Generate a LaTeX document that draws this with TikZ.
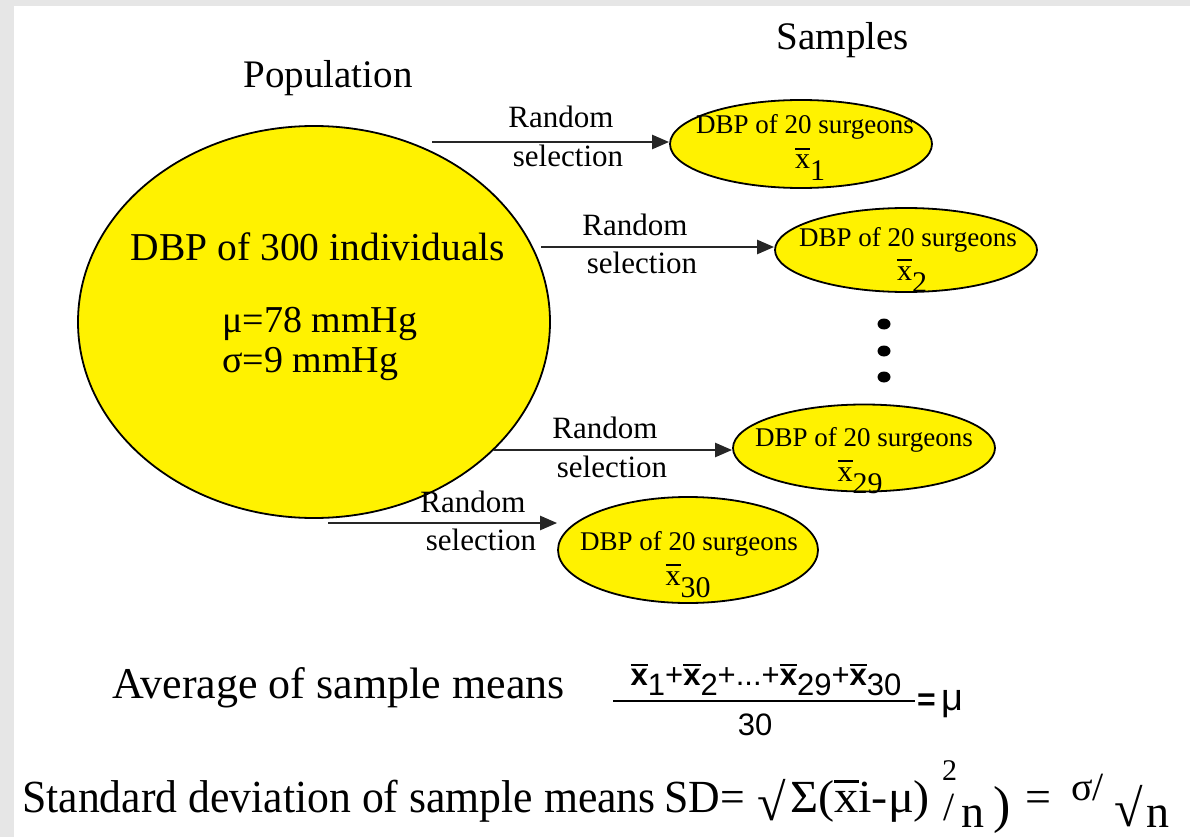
\documentclass[tikz,border=0pt]{standalone}
\usepackage{fontspec}
\usepackage{graphicx}
\setmainfont{Liberation Serif}
\newfontfamily\sansf{Liberation Sans}
\usetikzlibrary{shapes.geometric,arrows.meta}
\newcommand\fs[1]{\fontsize{#1}{#1}\selectfont}
\newcommand\ovx[1]{\setbox0\hbox{#1}\rlap{\raisebox{0.62em}{\rule{\wd0}{0.07em}}}\box0}
\newcommand\xsub[1]{\ovx{x}\raisebox{-0.4em}{#1}}
\newcommand\nx[1]{\raisebox{0.3em}{\ovx{\bfseries x}}#1}
\newcommand\rp[1]{\raisebox{0.3em}{#1}}
\definecolor{bggray}{HTML}{E6E6E6}
\begin{document}
\begin{tikzpicture}[x=1pt,y=-1pt,
  blob/.style={ellipse,draw=black,fill=yellow,line width=1.8pt,inner sep=0pt},
  arr/.style={-{Triangle[length=17pt,width=14pt]},line width=2.4pt,draw=black!85},
  lbl/.style={font=\fs{31},inner sep=0pt,anchor=base},
  big/.style={font=\fs{38},inner sep=0pt,anchor=base},
  stxt/.style={font=\fs{27},inner sep=0pt,anchor=base},
  xtxt/.style={font=\fs{30},inner sep=0pt,anchor=base},
  dot/.style={ellipse,fill=black,minimum width=13pt,minimum height=11pt,inner sep=0pt},
  piece/.style={font=\fs{46},inner sep=0pt,anchor=base west}]
\fill[bggray] (0,0) rectangle (1190,837);
\fill[white] (14,6) rectangle (1190,837);
\useasboundingbox (0,0) rectangle (1190,837);

% titles
\node[big,font=\fs{39}] (poptitle) at (328,88) {Population};
\node[big,font=\fs{39}] (samptitle) at (843,50) {Samples};

% population
\node[blob,minimum width=472pt,minimum height=392pt] (pop) at (314,322) {};
\node[big,font=\fs{39.5}] (poptext) at (318,260) {DBP of 300 individuals};
\node[big,anchor=base west] (mu) at (222,332) {μ=78 mmHg};
\node[big,anchor=base west] (sigma) at (222,372) {σ=9 mmHg};

% samples
\node[blob,minimum width=262pt,minimum height=88pt] (e1) at (801,144) {};
\node[stxt] (t1) at (805,134) {DBP of 20 surgeons};
\node[xtxt] (x1) at (810,169) {\xsub{1}};

\node[blob,minimum width=262pt,minimum height=84pt] (e2) at (906,250) {};
\node[stxt] (t2) at (908,246) {DBP of 20 surgeons};
\node[xtxt] (x2) at (912,280) {\xsub{2}};

\node[dot] (d1) at (884,324) {};
\node[dot] (d2) at (884,351) {};
\node[dot] (d3) at (884,377) {};

\node[blob,minimum width=262pt,minimum height=87pt] (e29) at (864,448) {};
\node[stxt] (t29) at (864,446) {DBP of 20 surgeons};
\node[xtxt] (x29) at (860,481) {\xsub{29}};

\node[blob,minimum width=260pt,minimum height=106pt] (e30) at (688,550) {};
\node[stxt] (t30) at (689,550) {DBP of 20 surgeons};
\node[xtxt] (x30) at (688,585) {\xsub{30}};

% arrows
\coordinate (s1) at (432,142);
\coordinate (s2) at (541,247);
\coordinate (s3) at (494,450);
\coordinate (s4) at (328,523);
\draw[arr] (s1) -- (e1.west |- s1);
\draw[arr] (s2) -- (e2.west |- s2);
\draw[arr] (s3) -- (e29.west |- s3);
\draw[arr] (s4) -- (e30.west |- s4);
\node[lbl] (r1) at (561,128) {Random};
\node[lbl] (l1) at (568,167) {selection};
\node[lbl] (r2) at (635,235) {Random};
\node[lbl] (l2) at (642,273) {selection};
\node[lbl] (r3) at (605,438) {Random};
\node[lbl] (l3) at (612,477) {selection};
\node[lbl] (r4) at (473,512) {Random};
\node[lbl] (l4) at (481,550) {selection};

% average
\node[piece,font=\fs{44}] (avg) at (112,698) {Average of sample means};
\node[inner sep=0pt,anchor=base,font=\sansf\fs{31}] (num) at (766,695)
  {\nx{1}\rp{+}\nx{2}\rp{+...+}\nx{29}\rp{+}\nx{30}};
\coordinate (fl) at (613,701);
\coordinate (fr) at (915,701);
\draw[line width=2.5pt] (fl) -- (fr);
\node[inner sep=0pt,anchor=base,font=\sansf\fs{31}] (den) at (755,735) {30};
\node[inner sep=0pt,anchor=base west,font=\sansf\fs{32}] (eqmu) at (917,710) {\textbf{=}\,{\fs{38}μ}};

% standard deviation
\node[piece] (sdtext) at (22,812) {\scalebox{0.95}[1]{Standard deviation of sample means}};
\node[piece] (sd) at (664,812) {\scalebox{0.95}[1]{SD=}};
\node[piece,font=\fs{52}] (rad1) at (757,820) {√};
\node[piece] (sum) at (790,812) {\scalebox{1.05}[1]{Σ(\ovx{x}i-μ)}};
\node[piece,font=\fs{30}] (sq) at (942,780) {2};
\node[piece,font=\fs{40}] (slash1) at (943,820) {/};
\node[piece] (n1) at (961,827) {n};
\node[piece,font=\fs{52}] (cp) at (993,822) {)};
\node[piece] (eq2) at (1025,812) {=};
\node[piece,font=\fs{40}] (sg) at (1071,800) {σ/};
\node[piece,font=\fs{52}] (rad2) at (1114,826) {√};
\node[piece] (n2) at (1146,827) {n};
\end{tikzpicture}
\end{document}
